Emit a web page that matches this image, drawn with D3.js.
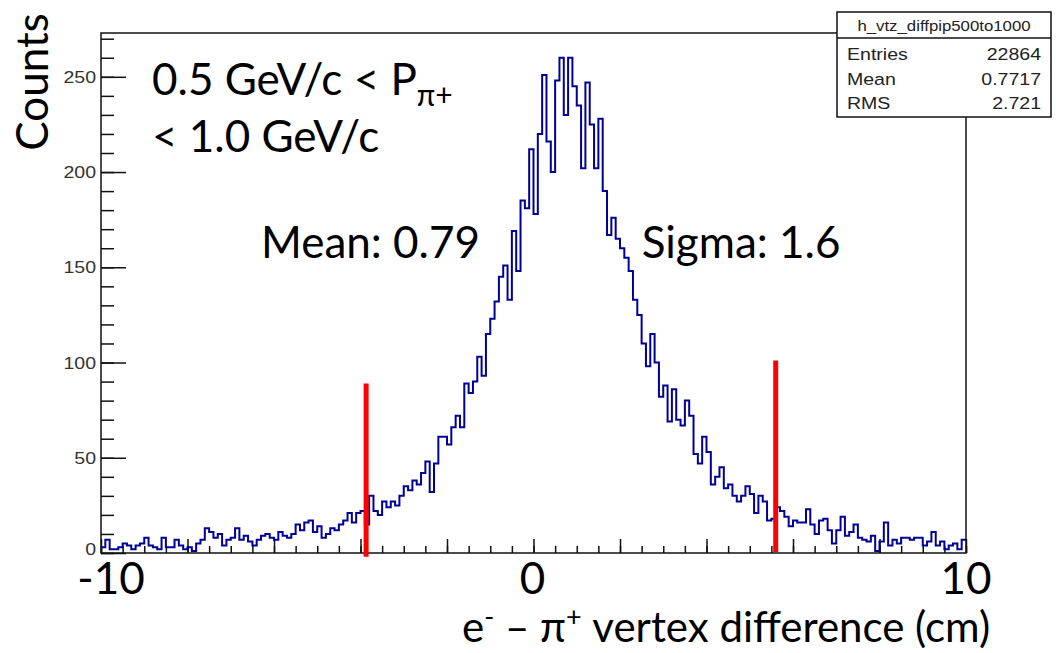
<!DOCTYPE html>
<html><head><meta charset="utf-8">
<script src="https://cdn.jsdelivr.net/npm/d3@7"></script>
<style>body{margin:0;background:#fff} svg{display:block}</style>
</head><body><svg id="c" width="1056" height="653"></svg>
<script>
// ---------------- data ----------------
const xDomain = [-10, 10];
const yDomain = [0, 273];
const counts = [
  3,7,2,2,3,5,4,2,4,5, 8,4,3,2,8,3,3,7,4,2, 3,1,5,7,13,11,8,10,4,7, 8,13,7,9,
  6,4,7,9,10,8,7,11,9,8, 10,15,12,16,17,11,14,8,10,13, 12,15,17,21,16,21,22,15,
  30,22,20,27,24,27,25,30,35,33, 38,36,42,48,32,47,61,61,57,66,
  72,66,89,84,90,103,93,115,123,132, 145,151,133,169,148,185,181,212,178,220,
  251,216,200,248,260,230,260,245,235,202, 247,225,202,228,190,167,176,165,160,155,
  148,133,125,110,98,115,100,82,88,69, 86,70,67,80,72,52,47,61,53,36,
  40,45,34,36,30,27,30,35,31,21, 30,27,17,18,24,22,19,14,17,16,
  16,23,15,10,17,18,12,5,12,19, 9,11,15,8,7,6,9,1,6,16,
  4,7,5,8,8,7,8,8,4,6, 11,4,6,2,4,5,2,7
];
const yMajorTicks = [0, 50, 100, 150, 200, 250];
const yMinorStep = 10;
const xMajorStep = 2;
const xMinorStep = 0.5;
const xLabelValues = [-10, 0, 10];
const xLabelTexts = ["-10", "0", "10"];
const markerX = [-3.87, 5.6];
const markerTop = [89, 101];
const markerBottom = [-2, 0.5];
const statsTitle = "h_vtz_diffpip500to1000";
const statsNames = ["Entries", "Mean", "RMS"];
const statsValues = ["22864", "0.7717", "2.721"];
const fitLabels = ["Mean: 0.79", "Sigma: 1.6"];
const fitLabelX = [-6.3, 2.5];
const fitLabelY = [155, 155];

// ---------------- layout ----------------
const svg = d3.select("#c");
const L = 101, R = 966, T = 33, B = 553;
const x = d3.scaleLinear().domain(xDomain).range([L, R]);
const y = d3.scaleLinear().domain(yDomain).range([B, T]);
const bigFont = "Lato, 'Open Sans', sans-serif";
const rootFont = "'Liberation Sans', Arial, sans-serif";
const binW = (xDomain[1] - xDomain[0]) / counts.length;

// minor + major ticks (inward)
const yMinor = d3.range(yDomain[0], yDomain[1] + 0.001, yMinorStep);
const gy1 = svg.append("g").attr("transform", `translate(${L},0)`)
  .call(d3.axisLeft(y).tickValues(yMinor).tickSize(-13).tickFormat(""));
const gy2 = svg.append("g").attr("transform", `translate(${L},0)`)
  .call(d3.axisLeft(y).tickValues(yMajorTicks).tickSize(-25).tickFormat(""));
const xMinor = d3.range(xDomain[0], xDomain[1] + 0.001, xMinorStep);
const xMajor = d3.range(xDomain[0], xDomain[1] + 0.001, xMajorStep);
const gx1 = svg.append("g").attr("transform", `translate(0,${B})`)
  .call(d3.axisBottom(x).tickValues(xMinor).tickSize(-7).tickFormat(""));
const gx2 = svg.append("g").attr("transform", `translate(0,${B})`)
  .call(d3.axisBottom(x).tickValues(xMajor).tickSize(-14).tickFormat(""));
[gy1, gy2, gx1, gx2].forEach(g => {
  g.select(".domain").remove();
  g.selectAll(".tick line").attr("stroke", "#111").attr("stroke-width", 1.5);
});

// histogram
const pts = counts.map((c, i) => [xDomain[0] + i * binW, c]);
pts.push([xDomain[1], counts[counts.length - 1]]);
svg.append("path")
  .attr("d", d3.line().x(d => x(d[0])).y(d => y(d[1])).curve(d3.curveStepAfter)(pts))
  .attr("fill", "none").attr("stroke", "#000096").attr("stroke-width", 2);

// frame
svg.append("rect").attr("x", L).attr("y", T).attr("width", R - L).attr("height", B - T)
  .attr("fill", "none").attr("stroke", "#111").attr("stroke-width", 1.5);

// y tick labels (ROOT style)
svg.append("g").selectAll("text").data(yMajorTicks).join("text")
  .attr("transform", d => `translate(96,${y(d) + (d === 0 ? 2 : 6)}) scale(1.15,1)`)
  .attr("text-anchor", "end").attr("font-family", rootFont).attr("font-size", 17)
  .attr("fill", "#333").text(d => d);

// big x labels
const xLabelDx = [10, -1, 0];
svg.append("g").selectAll("text").data(xLabelValues).join("text")
  .attr("x", (d, i) => x(d) + xLabelDx[i]).attr("y", 594)
  .attr("text-anchor", "middle").attr("font-family", bigFont).attr("font-size", 44)
  .attr("fill", "#000").text((d, i) => xLabelTexts[i]);

// red markers
svg.append("g").selectAll("line").data(markerX).join("line")
  .attr("x1", d => x(d)).attr("x2", d => x(d))
  .attr("y1", (d, i) => y(markerBottom[i])).attr("y2", (d, i) => y(markerTop[i]))
  .attr("stroke", "#ff0000").attr("stroke-width", 5);

// fit labels
svg.append("g").selectAll("text").data(fitLabels).join("text")
  .attr("x", (d, i) => x(fitLabelX[i])).attr("y", (d, i) => y(fitLabelY[i]))
  .attr("font-family", bigFont).attr("font-size", 44).attr("fill", "#000").text(d => d);

// momentum label
const t1 = svg.append("text").attr("x", 152).attr("y", 95)
  .attr("font-family", bigFont).attr("font-size", 44).attr("fill", "#000");
t1.append("tspan").text("0.5 GeV/c < P");
t1.append("tspan").attr("font-size", 30).attr("dy", 11).text("π+");
svg.append("text").attr("x", 152).attr("y", 152)
  .attr("font-family", bigFont).attr("font-size", 44).attr("fill", "#000").text("< 1.0 GeV/c");

// axis titles
svg.append("text").attr("transform", "translate(48,82) rotate(-90)")
  .attr("text-anchor", "middle").attr("font-family", bigFont).attr("font-size", 44)
  .attr("fill", "#000").text("Counts");
const xt = svg.append("text").attr("x", 462).attr("y", 642)
  .attr("font-family", bigFont).attr("font-size", 42).attr("fill", "#000");
xt.append("tspan").text("e");
xt.append("tspan").attr("font-size", 27).attr("dy", -16).text("-");
xt.append("tspan").attr("dy", 16).text(" – π");
xt.append("tspan").attr("font-size", 27).attr("dy", -16).text("+");
xt.append("tspan").attr("dy", 16).text(" vertex difference (cm)");

// stats box
const sb = {x0: 837, x1: 1051, y0: 12, y1: 117, ySep: 38};
svg.append("rect").attr("x", sb.x0).attr("y", sb.y0).attr("width", sb.x1 - sb.x0)
  .attr("height", sb.y1 - sb.y0).attr("fill", "#fff").attr("stroke", "#111").attr("stroke-width", 1.5);
svg.append("line").attr("x1", sb.x0).attr("x2", sb.x1).attr("y1", sb.ySep).attr("y2", sb.ySep)
  .attr("stroke", "#111").attr("stroke-width", 1.5);
svg.append("text").attr("transform", `translate(${(sb.x0 + sb.x1) / 2},31) scale(1.12,1)`)
  .attr("text-anchor", "middle").attr("font-family", rootFont).attr("font-size", 15)
  .attr("fill", "#222").text(statsTitle);
const rowY = [60, 85, 109];
svg.append("g").selectAll("text").data(statsNames).join("text")
  .attr("transform", (d, i) => `translate(847,${rowY[i]}) scale(1.15,1)`)
  .attr("font-family", rootFont).attr("font-size", 17).attr("fill", "#222").text(d => d);
svg.append("g").selectAll("text").data(statsValues).join("text")
  .attr("transform", (d, i) => `translate(1041,${rowY[i]}) scale(1.15,1)`)
  .attr("text-anchor", "end").attr("font-family", rootFont).attr("font-size", 17)
  .attr("fill", "#222").text(d => d);
</script>
</body></html>
